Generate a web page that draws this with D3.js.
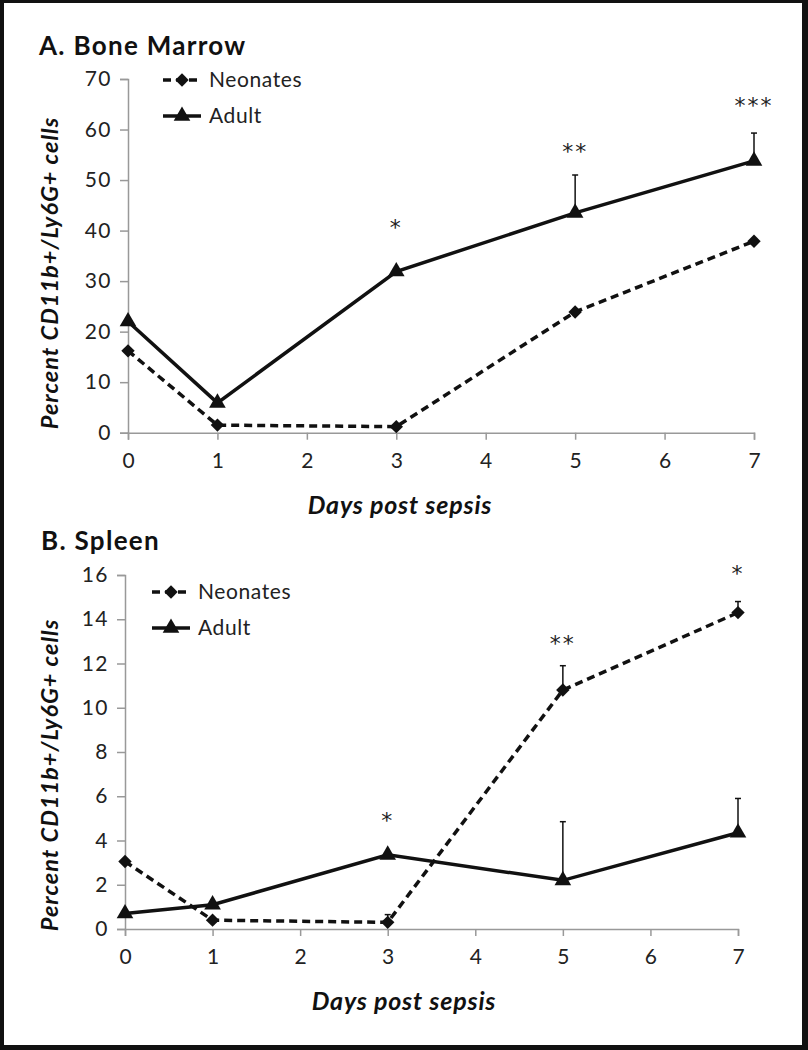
<!DOCTYPE html>
<html><head><meta charset="utf-8">
<script src="https://cdn.jsdelivr.net/npm/d3@7"></script>
<style>body{margin:0;background:#fff}svg{display:block}</style>
</head><body>
<svg id="c" width="808" height="1050"></svg>
<script>
// ---- data ----
const days = [0, 1, 3, 5, 7];
const xTicks = [0, 1, 2, 3, 4, 5, 6, 7];
// Panel A: Bone Marrow
const bmNeonates = [16.2, 1.5, 1.2, 23.9, 37.9];
const bmAdult = [22, 5.9, 31.9, 43.5, 53.8];
const bmAdultErr = [null, null, null, 7.5, 5.5];
const bmNeonatesErr = [null, null, null, null, null];
const bmStars = ["", "", "*", "**", "***"];
const bmYTicks = [0, 10, 20, 30, 40, 50, 60, 70];
// Panel B: Spleen
const spNeonates = [3.05, 0.4, 0.3, 10.8, 14.3];
const spAdult = [0.7, 1.1, 3.35, 2.2, 4.35];
const spNeonatesErr = [null, null, 0.35, 1.1, 0.5];
const spAdultErr = [null, null, null, 2.65, 1.55];
const spStars = ["", "", "*", "**", "*"];
const spYTicks = [0, 2, 4, 6, 8, 10, 12, 14, 16];
const seriesNames = ["Neonates", "Adult"];
const yTitle = "Percent CD11b+/Ly6G+ cells";
const xTitle = "Days post sepsis";

const svg = d3.select("#c");
// frame
svg.append("rect").attr("x",0).attr("y",0).attr("width",808).attr("height",1050).attr("fill","#111");
svg.append("rect").attr("x",4).attr("y",3).attr("width",798).attr("height",1042).attr("fill","#fff");

const FONT = "Lato, 'Open Sans', sans-serif";

function panel(cfg){
  const g = svg.append("g");
  const x = d3.scaleLinear().domain([0,7]).range([cfg.x0, cfg.x1]);
  const y = d3.scaleLinear().domain([0, cfg.yMax]).range([cfg.yBottom, cfg.yTop]);

  g.append("text").attr("x", cfg.titleX).attr("y", cfg.titleY)
    .attr("font-family", FONT).attr("font-weight", "bold").attr("font-size", 26)
    .attr("letter-spacing", 1.3).attr("fill","#111").text(cfg.title);

  // y axis
  const ya = g.append("g").attr("transform", `translate(${cfg.x0},0)`)
    .call(d3.axisLeft(y).tickValues(cfg.yTicks).tickSize(8).tickPadding(8).tickFormat(d3.format("d")));
  ya.select(".domain").attr("stroke","#999").attr("stroke-width",1.5);
  ya.selectAll(".tick line").attr("stroke","#999").attr("stroke-width",1.5);
  ya.selectAll(".tick text").attr("font-family",FONT).attr("font-size",21)
    .attr("letter-spacing",1.5).attr("fill","#222");

  // x axis
  const xa = g.append("g").attr("transform", `translate(0,${cfg.yBottom})`)
    .call(d3.axisBottom(x).tickValues(xTicks).tickSize(7).tickPadding(13).tickFormat(d3.format("d")));
  xa.select(".domain").attr("stroke","#999").attr("stroke-width",1.5);
  xa.selectAll(".tick line").attr("stroke","#999").attr("stroke-width",1.5);
  xa.selectAll(".tick text").attr("font-family",FONT).attr("font-size",21).attr("fill","#222");

  // titles
  g.append("text").attr("x", cfg.xTitleX).attr("y", cfg.yBottom + 81)
    .attr("text-anchor","middle").attr("font-family",FONT).attr("font-weight","bold")
    .attr("font-style","italic").attr("font-size",25).attr("letter-spacing",0.8)
    .attr("fill","#111").text(xTitle);
  g.append("text").attr("transform", `translate(58,${cfg.yTitleY}) rotate(-90)`)
    .attr("text-anchor","middle").attr("font-family",FONT).attr("font-weight","bold")
    .attr("font-style","italic").attr("font-size",23.5).attr("letter-spacing",1)
    .attr("fill","#111").text(yTitle);

  const line = d3.line().x((d,i)=>x(days[i])).y(d=>y(d));

  // error bars
  function errs(vals, errArr){
    days.forEach((d,i)=>{
      if(errArr[i]==null) return;
      const top = y(vals[i]+errArr[i]);
      g.append("line").attr("x1",x(d)).attr("x2",x(d)).attr("y1",y(vals[i])).attr("y2",top)
        .attr("stroke","#111").attr("stroke-width",1.5);
      g.append("line").attr("x1",x(d)-3).attr("x2",x(d)+3).attr("y1",top).attr("y2",top)
        .attr("stroke","#111").attr("stroke-width",1.5);
    });
  }
  errs(cfg.neo, cfg.neoErr);
  errs(cfg.adult, cfg.adultErr);

  g.append("path").datum(cfg.adult).attr("d",line).attr("fill","none")
    .attr("stroke","#111").attr("stroke-width",3.5);
  g.append("path").datum(cfg.neo).attr("d",line).attr("fill","none")
    .attr("stroke","#111").attr("stroke-width",3.5).attr("stroke-dasharray","8,5");

  const diamond = d3.symbol().type(d3.symbolSquare).size(90)();
  const tri = d3.symbol().type(d3.symbolTriangle).size(120)();
  g.selectAll(".dm").data(cfg.neo).join("path").attr("d",diamond)
    .attr("transform",(d,i)=>`translate(${x(days[i])},${y(d)}) rotate(45)`).attr("fill","#111");
  g.selectAll(".tr").data(cfg.adult).join("path").attr("d",tri)
    .attr("transform",(d,i)=>`translate(${x(days[i])},${y(d)})`).attr("fill","#111");

  // stars
  cfg.stars.forEach((s,i)=>{
    if(!s) return;
    g.append("text").attr("x", x(days[i])).attr("y", cfg.starY[i])
      .attr("text-anchor","middle").attr("font-family","'DejaVu Sans', sans-serif").attr("font-size",22)
      .attr("fill","#222").attr("letter-spacing",2).text(s);
  });

  // legend
  const L = cfg.legend;
  [0,1].forEach(k=>{
    const ly = L.y + k*36;
    const ln = g.append("line").attr("x1",L.x).attr("x2",L.x+38).attr("y1",ly).attr("y2",ly)
      .attr("stroke","#111").attr("stroke-width",3.5);
    if(k===0) ln.attr("stroke-dasharray","8,5");
    g.append("path").attr("d", k===0?diamond:tri)
      .attr("transform",`translate(${L.x+19},${ly})${k===0?" rotate(45)":""}`).attr("fill","#111");
    g.append("text").attr("x",L.x+46).attr("y",ly+7).attr("font-family",FONT).attr("font-size",21)
      .attr("letter-spacing",0.6).attr("fill","#222").text(seriesNames[k]);
  });
}

panel({title:"A. Bone Marrow", titleX:39, titleY:55, x0:128, x1:754, yTop:79, yBottom:432.7, yMax:70,
  yTicks:bmYTicks, neo:bmNeonates, adult:bmAdult, neoErr:bmNeonatesErr, adultErr:bmAdultErr,
  stars:bmStars, starY:[0,0,235,159,113], xTitleX:400, yTitleY:273, legend:{x:163,y:80}});
panel({title:"B. Spleen", titleX:41, titleY:550, x0:125, x1:738, yTop:575, yBottom:929, yMax:16,
  yTicks:spYTicks, neo:spNeonates, adult:spAdult, neoErr:spNeonatesErr, adultErr:spAdultErr,
  stars:spStars, starY:[0,0,828,651,581], xTitleX:404, yTitleY:775, legend:{x:152,y:592}});
</script>
</body></html>
